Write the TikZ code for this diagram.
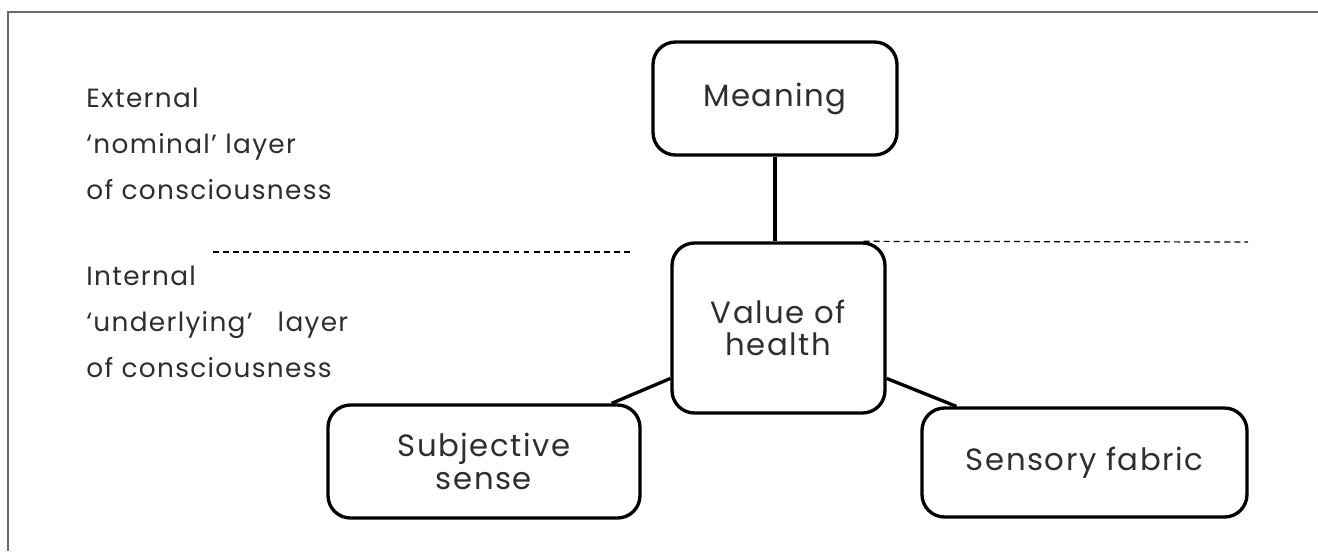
\documentclass[tikz,border=0pt]{standalone}
\usepackage{fontspec}
\setmainfont{Poppins}[LetterSpace=5]
\usetikzlibrary{positioning,calc}
\definecolor{txtGray}{HTML}{2E2E2E}
\definecolor{frameGray}{HTML}{6A6A6A}
\tikzset{
  stage/.style={draw, rounded corners=0.45cm, line width=1.9pt, align=center,
    text=txtGray, font=\fontsize{17.5}{18.5}\selectfont, inner sep=0pt},
  layerlab/.style={anchor=north west, align=left, inner sep=0pt, text=txtGray,
    font=\fontsize{15}{26}\selectfont},
  link/.style={line width=1.9pt},
  divide/.style={line width=0.7pt, dash pattern=on 3.4pt off 2.3pt},
}

\begin{document}
\begin{tikzpicture}
\useasboundingbox (0,0) rectangle (26.36,-11.02);
\draw[frameGray, line width=1pt] (0.16,-11.02) |- (26.36,-0.24);
\node[layerlab] (ext) at (1.72,-1.76) {External\\‘nominal’ layer\\of consciousness};
\node[layerlab] (int) at (1.72,-5.32) {Internal\\‘underlying’\ \ \ layer\\of consciousness};
\node[stage, minimum width=4.88cm, minimum height=2.26cm] (meaning) at (15.5,-1.97) {Meaning};
\node[stage, minimum width=4.26cm, minimum height=3.4cm] (value) at (15.57,-6.56) {Value of\\health};
\node[stage, minimum width=6.24cm, minimum height=2.26cm] (subj) at (9.68,-9.23) {Subjective\\sense};
\node[stage, minimum width=6.5cm, minimum height=2.18cm] (sens) at (21.69,-9.25) {Sensory fabric};
\draw[link] (meaning.south) -- (meaning.south |- value.north);
\draw[link] (value.205) -- ($(subj.north east)+(-0.6,0)$);
\draw[link] (value.335) -- ($(sens.north west)+(0.72,0)$);
\draw[divide] (4.26,-5.04) -- (12.66,-5.04);
\draw[divide] ($(value.north east)+(-0.46,0)$) -- (24.96,-4.84);
\end{tikzpicture}
\end{document}
